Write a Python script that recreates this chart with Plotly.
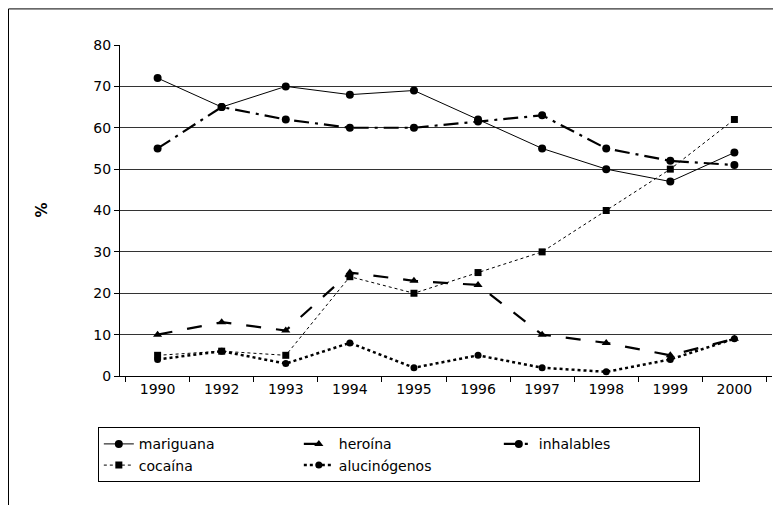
import plotly.graph_objects as go

years = ["1990", "1992", "1993", "1994", "1995", "1996", "1997", "1998", "1999", "2000"]
mariguana = [72, 65, 70, 68, 69, 62, 55, 50, 47, 54]
heroina = [10, 13, 11, 25, 23, 22, 10, 8, 5, 9]
inhalables = [55, 65, 62, 60, 60, 61.5, 63, 55, 52, 51]
cocaina = [5, 6, 5, 24, 20, 25, 30, 40, 50, 62]
alucinogenos = [4, 6, 3, 8, 2, 5, 2, 1, 4, 9]
y_ticks = [0, 10, 20, 30, 40, 50, 60, 70, 80]

FONT = "DejaVu Sans, sans-serif"

fig = go.Figure()
series = [
    ("mariguana", mariguana, dict(dash="solid", width=1), dict(symbol="circle", size=8)),
    ("heroína", heroina, dict(dash="longdash", width=2.2), dict(symbol="triangle-up", size=8)),
    ("inhalables", inhalables, dict(dash="longdashdot", width=2.2), dict(symbol="circle", size=8)),
    ("cocaína", cocaina, dict(dash="dot", width=1), dict(symbol="square", size=7)),
    ("alucinógenos", alucinogenos, dict(dash="dot", width=2.5), dict(symbol="circle", size=7)),
]
for name, vals, line, marker in series:
    fig.add_trace(go.Scatter(
        x=years, y=vals, name=name, mode="lines+markers",
        line=dict(color="black", **line),
        marker=dict(color="black", **marker),
    ))

fig.update_layout(
    width=773, height=497,
    margin=dict(l=112, r=9, t=37, b=129, autoexpand=False),
    paper_bgcolor="white", plot_bgcolor="white",
    font=dict(family=FONT, size=14, color="black"),
    showlegend=True,
    legend=dict(
        orientation="h", x=-0.034, y=-0.155, xanchor="left", yanchor="top",
        bordercolor="black", borderwidth=1, bgcolor="white",
        entrywidth=155, entrywidthmode="pixels",
        font=dict(family=FONT, size=14),
        traceorder="normal", tracegroupgap=0,
    ),
    xaxis=dict(
        type="category", tickson="boundaries", ticks="outside", ticklen=5,
        tickcolor="black", showline=True, linecolor="black", linewidth=1,
        showgrid=False, tickfont=dict(size=14), zeroline=False, automargin=False,
    ),
    yaxis=dict(
        range=[0, 80], tickvals=y_ticks, ticks="outside", ticklen=5,
        tickcolor="black", showline=True, linecolor="black", linewidth=1,
        showgrid=True, gridcolor="#333333", gridwidth=1, zeroline=False,
        tickfont=dict(size=14), automargin=False,
    ),
    annotations=[
        dict(text="<b>%</b>", xref="paper", yref="paper", x=-0.121, y=0.50,
             xanchor="center", yanchor="middle",
             showarrow=False, textangle=-90, font=dict(size=15)),
    ],
    shapes=[
        dict(type="rect", xref="paper", yref="paper",
             x0=-0.1710, x1=1.03, y0=-0.42, y1=1.109,
             line=dict(color="black", width=1), fillcolor="rgba(0,0,0,0)", layer="below"),
        dict(type="line", xref="paper", yref="y", x0=0, x1=1, y0=80, y1=80,
             line=dict(color="white", width=2)),
    ],
)

fig.write_html("out.html")
